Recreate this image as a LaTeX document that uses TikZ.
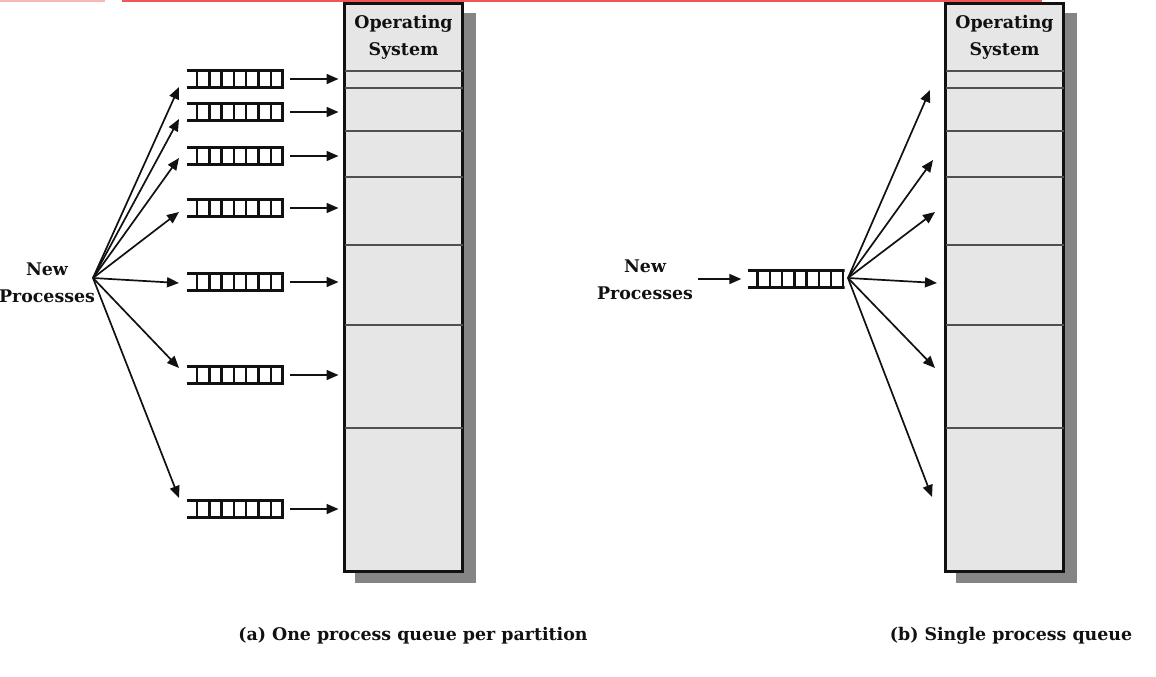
\documentclass[tikz,border=0pt]{standalone}
\usepackage{fontspec}
\setmainfont{DejaVu Serif}
\usetikzlibrary{arrows.meta,positioning,calc}
\definecolor{Ink}{HTML}{111111}
\definecolor{MemFill}{HTML}{E6E6E6}
\definecolor{MemShadow}{HTML}{858585}
\definecolor{MemLine}{HTML}{505050}
\definecolor{TopRule}{HTML}{F25555}
\definecolor{TopPink}{HTML}{F7B8B8}

\begin{document}
\begin{tikzpicture}[x=1pt,y=-1pt,>={Triangle[length=12pt,width=10pt]},
  lbl/.style={font=\fontsize{17.4}{27}\selectfont\bfseries,text=Ink,align=center,inner sep=0pt},
  feed/.style={->,Ink,line width=1.7pt},
  memory/.style={draw=Ink,fill=MemFill,line width=3pt,minimum width=118pt,minimum height=568pt,inner sep=0pt},
  queue/.style={minimum width=97pt,minimum height=20pt,inner sep=0pt,
    path picture={
      \draw[Ink,line width=3pt] ([yshift=-1.5pt]path picture bounding box.north west) -- ([yshift=-1.5pt]path picture bounding box.north east);
      \draw[Ink,line width=3pt] ([yshift=1.5pt]path picture bounding box.south west) -- ([yshift=1.5pt]path picture bounding box.south east);
      \foreach \f in {0.103,0.230,0.357,0.483,0.610,0.737,0.863,0.985}
        \draw[Ink,line width=2.4pt] ($(path picture bounding box.north west)!\f!(path picture bounding box.north east)$) -- ($(path picture bounding box.south west)!\f!(path picture bounding box.south east)$);
    }}]
\useasboundingbox (0,0) rectangle (1156,677);
% strip at the top edge
\draw[TopPink,line width=2pt] (0,0.8) -- (105,0.8);
\draw[TopRule,line width=2pt] (122,0.8) -- (1042,0.8);

% (a) one queue per partition
\fill[MemShadow] (355,13) rectangle (476,583);
\node[memory] (memA) at (403.5,287.5) {};
\foreach \y in {71,88,131,177,245,325,428}
  \draw[MemLine,line width=2.2pt,shorten <=1.5pt,shorten >=1.5pt] (memA.west |- 0,\y) -- (memA.east |- 0,\y);
\node[lbl] (osA) at (403.5,37) {Operating\\System};

\node[lbl] (newA) at (47,283) {New\\Processes};
\coordinate (srcA) at (93,278);
\foreach \n/\y/\ty in {1/79/87,2/112/119,3/156/158,4/208/212,5/282/283,6/375/368,7/509/498} {
  \node[queue] (qA\n) at (235.5,\y) {};
  \coordinate (tipA\n) at (179,\ty);
  \draw[feed] (srcA) -- (tipA\n);
  \draw[feed,shorten >=4.5pt] ([xshift=6pt]qA\n.east) -- (qA\n.east -| memA.west);
}
\node[lbl] (capA) at (413,636) {(a) One process queue per partition};

% (b) single queue
\fill[MemShadow] (956,13) rectangle (1077,583);
\node[memory] (memB) at (1004.5,287.5) {};
\foreach \y in {71,88,131,177,245,325,428}
  \draw[MemLine,line width=2.2pt,shorten <=1.5pt,shorten >=1.5pt] (memB.west |- 0,\y) -- (memB.east |- 0,\y);
\node[lbl] (osB) at (1004.5,37) {Operating\\System};

\node[lbl] (newB) at (645,280) {New\\Processes};
\node[queue] (qB) at (796,279) {};
\draw[feed] ([xshift=-49pt]qB.west) -- ([xshift=-6pt]qB.west);
\coordinate (srcB) at (848,278);
\foreach \n/\tx/\ty in {1/930/90,2/933/160,3/935/212,4/937/283,5/935/368,6/932/497} {
  \coordinate (tipB\n) at (\tx,\ty);
  \draw[feed] (srcB) -- (tipB\n);
}
\node[lbl] (capB) at (1011,636) {(b) Single process queue};
\end{tikzpicture}
\end{document}
